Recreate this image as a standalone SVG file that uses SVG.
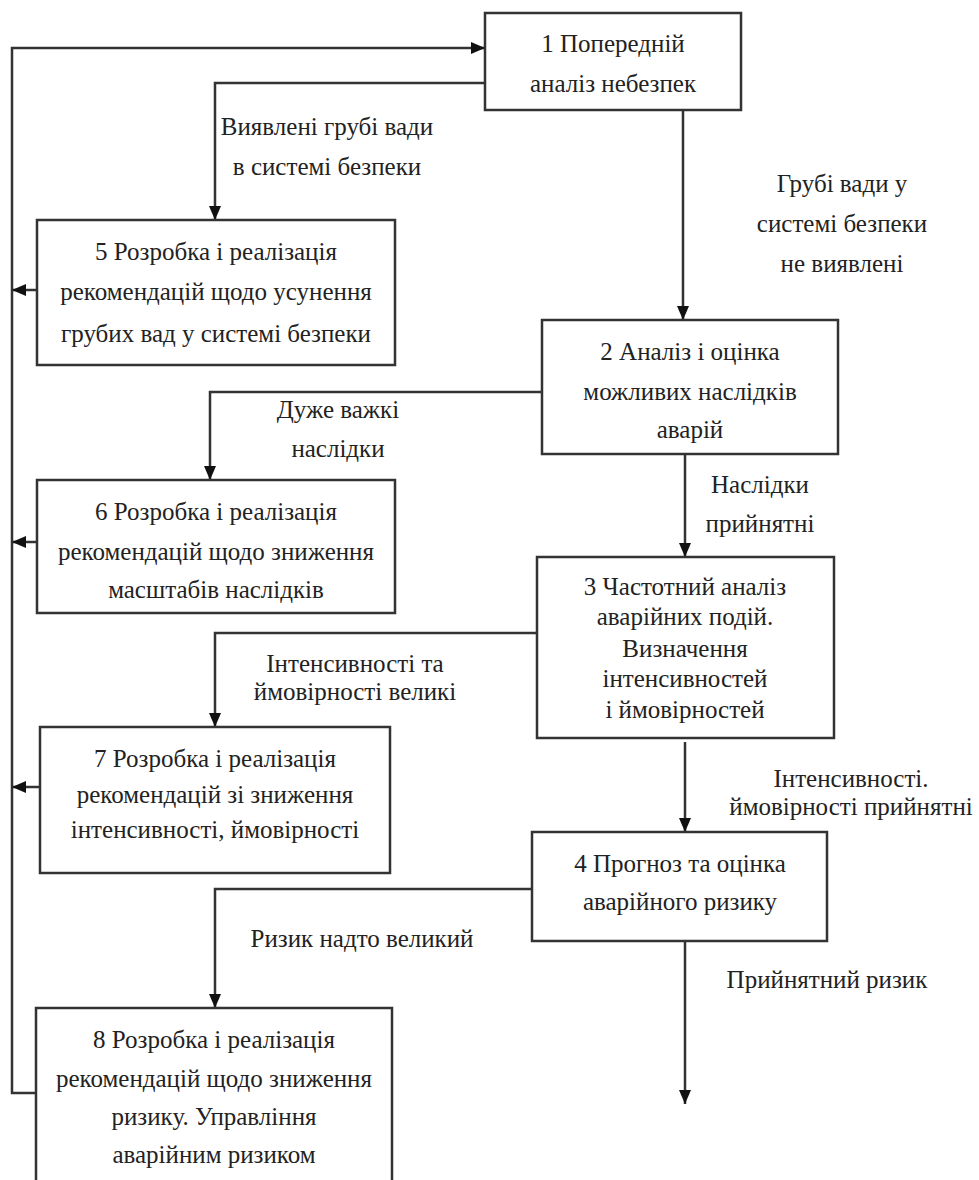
<svg xmlns="http://www.w3.org/2000/svg" width="979" height="1180" viewBox="0 0 979 1180">
<style>
.box{fill:#fff;stroke:#333;stroke-width:2.5}
.ln{fill:none;stroke:#333;stroke-width:2.5}
.t{font-family:'Liberation Serif','DejaVu Serif',serif;font-size:25px;fill:#222;text-anchor:middle}
</style>
<defs>
<marker id="ah" viewBox="0 0 14 12" refX="14" refY="6" markerWidth="14" markerHeight="12" markerUnits="userSpaceOnUse" orient="auto">
<path d="M0,0 L14,6 L0,12 Z" fill="#111"/>
</marker>
</defs>
<rect width="979" height="1180" fill="#fff"/>
<g id="connectors">
<path class="ln" d="M36,1093 H12 V48 H485" marker-end="url(#ah)"/>
<path class="ln" d="M485,83 H215 V220" marker-end="url(#ah)"/>
<path class="ln" d="M683,110 V320" marker-end="url(#ah)"/>
<path class="ln" d="M542,392 H210 V480" marker-end="url(#ah)"/>
<path class="ln" d="M685,454 V557" marker-end="url(#ah)"/>
<path class="ln" d="M537,633 H215 V727" marker-end="url(#ah)"/>
<path class="ln" d="M685,742 V832" marker-end="url(#ah)"/>
<path class="ln" d="M532,889 H215 V1008" marker-end="url(#ah)"/>
<path class="ln" d="M685,941 V1104" marker-end="url(#ah)"/>
<path class="ln" d="M37,290 H12" marker-end="url(#ah)"/>
<path class="ln" d="M37,542 H12" marker-end="url(#ah)"/>
<path class="ln" d="M40,787 H12" marker-end="url(#ah)"/>
</g>
<g id="labels" class="t" font-family="Liberation Serif, DejaVu Serif, serif">
<text x="327" y="135">Виявлені грубі вади</text>
<text x="327" y="175">в системі безпеки</text>
<text x="842" y="192">Грубі вади у</text>
<text x="842" y="232">системі безпеки</text>
<text x="842" y="272">не виявлені</text>
<text x="338" y="418">Дуже важкі</text>
<text x="338" y="457">наслідки</text>
<text x="760" y="493">Наслідки</text>
<text x="760" y="532">прийнятні</text>
<text x="355" y="672">Інтенсивності та</text>
<text x="355" y="700">ймовірності великі</text>
<text x="851" y="787">Інтенсивності.</text>
<text x="851" y="815">ймовірності прийнятні</text>
<text x="362" y="947">Ризик надто великий</text>
<text x="827" y="988">Прийнятний ризик</text>
</g>
<g id="node1" class="t" font-family="Liberation Serif, DejaVu Serif, serif">
<rect class="box" x="485" y="13" width="256" height="97"/>
<text x="613" y="52">1 Попередній</text>
<text x="613" y="92">аналіз небезпек</text>
</g>
<g id="node2" class="t" font-family="Liberation Serif, DejaVu Serif, serif">
<rect class="box" x="542" y="320" width="296" height="134"/>
<text x="690" y="360">2 Аналіз і оцінка</text>
<text x="690" y="400">можливих наслідків</text>
<text x="690" y="438">аварій</text>
</g>
<g id="node3" class="t" font-family="Liberation Serif, DejaVu Serif, serif">
<rect class="box" x="537" y="557" width="297" height="181"/>
<text x="685" y="595">3 Частотний аналіз</text>
<text x="685" y="625">аварійних подій.</text>
<text x="685" y="657">Визначення</text>
<text x="685" y="687">інтенсивностей</text>
<text x="685" y="718">і ймовірностей</text>
</g>
<g id="node4" class="t" font-family="Liberation Serif, DejaVu Serif, serif">
<rect class="box" x="532" y="832" width="295" height="109"/>
<text x="680" y="872">4 Прогноз та оцінка</text>
<text x="680" y="910">аварійного ризику</text>
</g>
<g id="node5" class="t" font-family="Liberation Serif, DejaVu Serif, serif">
<rect class="box" x="37" y="220" width="358" height="145"/>
<text x="216" y="260">5 Розробка і реалізація</text>
<text x="216" y="300">рекомендацій щодо усунення</text>
<text x="216" y="342">грубих вад у системі безпеки</text>
</g>
<g id="node6" class="t" font-family="Liberation Serif, DejaVu Serif, serif">
<rect class="box" x="37" y="480" width="358" height="133"/>
<text x="216" y="520">6 Розробка і реалізація</text>
<text x="216" y="560">рекомендацій щодо зниження</text>
<text x="216" y="598">масштабів наслідків</text>
</g>
<g id="node7" class="t" font-family="Liberation Serif, DejaVu Serif, serif">
<rect class="box" x="40" y="727" width="350" height="146"/>
<text x="215" y="767">7 Розробка і реалізація</text>
<text x="215" y="803">рекомендацій зі зниження</text>
<text x="215" y="838">інтенсивності, ймовірності</text>
</g>
<g id="node8" class="t" font-family="Liberation Serif, DejaVu Serif, serif">
<rect class="box" x="36" y="1008" width="356" height="200"/>
<text x="214" y="1048">8 Розробка і реалізація</text>
<text x="214" y="1087">рекомендацій щодо зниження</text>
<text x="214" y="1125">ризику. Управління</text>
<text x="214" y="1163">аварійним ризиком</text>
</g>
</svg>
